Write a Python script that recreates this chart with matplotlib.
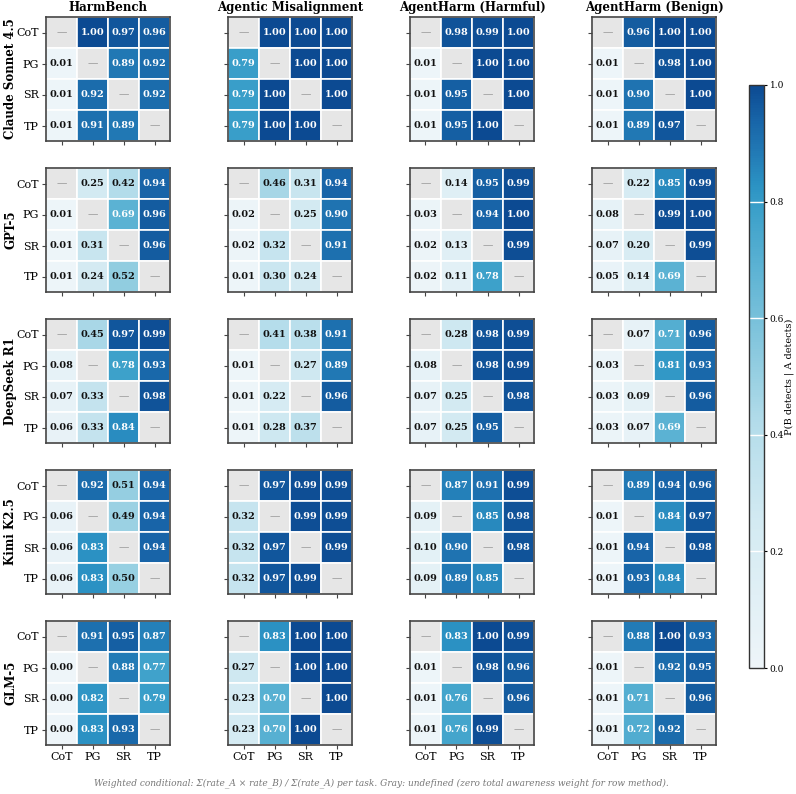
import numpy as np
import matplotlib
matplotlib.use("Agg")
import matplotlib.pyplot as plt
from matplotlib.colors import LinearSegmentedColormap

plt.rcParams['font.family'] = ['DejaVu Serif']

methods = ["CoT", "PG", "SR", "TP"]
tasks = ["HarmBench", "Agentic Misalignment", "AgentHarm (Harmful)", "AgentHarm (Benign)"]
models = ["Claude Sonnet 4.5", "GPT-5", "DeepSeek R1", "Kimi K2.5", "GLM-5"]
N = np.nan

claude_hb = [[N, 1.00, 0.97, 0.96], [0.01, N, 0.89, 0.92], [0.01, 0.92, N, 0.92], [0.01, 0.91, 0.89, N]]
claude_am = [[N, 1.00, 1.00, 1.00], [0.79, N, 1.00, 1.00], [0.79, 1.00, N, 1.00], [0.79, 1.00, 1.00, N]]
claude_ahh = [[N, 0.98, 0.99, 1.00], [0.01, N, 1.00, 1.00], [0.01, 0.95, N, 1.00], [0.01, 0.95, 1.00, N]]
claude_ahb = [[N, 0.96, 1.00, 1.00], [0.01, N, 0.98, 1.00], [0.01, 0.90, N, 1.00], [0.01, 0.89, 0.97, N]]

gpt_hb = [[N, 0.25, 0.42, 0.94], [0.01, N, 0.69, 0.96], [0.01, 0.31, N, 0.96], [0.01, 0.24, 0.52, N]]
gpt_am = [[N, 0.46, 0.31, 0.94], [0.02, N, 0.25, 0.90], [0.02, 0.32, N, 0.91], [0.01, 0.30, 0.24, N]]
gpt_ahh = [[N, 0.14, 0.95, 0.99], [0.03, N, 0.94, 1.00], [0.02, 0.13, N, 0.99], [0.02, 0.11, 0.78, N]]
gpt_ahb = [[N, 0.22, 0.85, 0.99], [0.08, N, 0.99, 1.00], [0.07, 0.20, N, 0.99], [0.05, 0.14, 0.69, N]]

ds_hb = [[N, 0.45, 0.97, 0.99], [0.08, N, 0.78, 0.93], [0.07, 0.33, N, 0.98], [0.06, 0.33, 0.84, N]]
ds_am = [[N, 0.41, 0.38, 0.91], [0.01, N, 0.27, 0.89], [0.01, 0.22, N, 0.96], [0.01, 0.28, 0.37, N]]
ds_ahh = [[N, 0.28, 0.98, 0.99], [0.08, N, 0.98, 0.99], [0.07, 0.25, N, 0.98], [0.07, 0.25, 0.95, N]]
ds_ahb = [[N, 0.07, 0.71, 0.96], [0.03, N, 0.81, 0.93], [0.03, 0.09, N, 0.96], [0.03, 0.07, 0.69, N]]

kimi_hb = [[N, 0.92, 0.51, 0.94], [0.06, N, 0.49, 0.94], [0.06, 0.83, N, 0.94], [0.06, 0.83, 0.50, N]]
kimi_am = [[N, 0.97, 0.99, 0.99], [0.32, N, 0.99, 0.99], [0.32, 0.97, N, 0.99], [0.32, 0.97, 0.99, N]]
kimi_ahh = [[N, 0.87, 0.91, 0.99], [0.09, N, 0.85, 0.98], [0.10, 0.90, N, 0.98], [0.09, 0.89, 0.85, N]]
kimi_ahb = [[N, 0.89, 0.94, 0.96], [0.01, N, 0.84, 0.97], [0.01, 0.94, N, 0.98], [0.01, 0.93, 0.84, N]]

glm_hb = [[N, 0.91, 0.95, 0.87], [0.00, N, 0.88, 0.77], [0.00, 0.82, N, 0.79], [0.00, 0.83, 0.93, N]]
glm_am = [[N, 0.83, 1.00, 1.00], [0.27, N, 1.00, 1.00], [0.23, 0.70, N, 1.00], [0.23, 0.70, 1.00, N]]
glm_ahh = [[N, 0.83, 1.00, 0.99], [0.01, N, 0.98, 0.96], [0.01, 0.76, N, 0.96], [0.01, 0.76, 0.99, N]]
glm_ahb = [[N, 0.88, 1.00, 0.93], [0.01, N, 0.92, 0.95], [0.01, 0.71, N, 0.96], [0.01, 0.72, 0.92, N]]

grid = [
    [claude_hb, claude_am, claude_ahh, claude_ahb],
    [gpt_hb, gpt_am, gpt_ahh, gpt_ahb],
    [ds_hb, ds_am, ds_ahh, ds_ahb],
    [kimi_hb, kimi_am, kimi_ahh, kimi_ahb],
    [glm_hb, glm_am, glm_ahh, glm_ahb],
]

cmap = LinearSegmentedColormap.from_list("cb", [
    (0.0, "#eef5f9"), (0.25, "#d3eaf2"), (0.42, "#b3dcea"), (0.5, "#98d0e2"),
    (0.69, "#5bb2d3"), (0.79, "#3a9fc9"), (0.83, "#2b92c3"), (0.89, "#2178b4"),
    (0.94, "#1865a8"), (1.0, "#0c4a92")])

W, H = 796, 794
fig = plt.figure(figsize=(W / 100, H / 100), dpi=100)

col_left = [46, 228, 410, 592]
row_top = [17, 168, 319, 470, 621]
size = 124

def px(x, y, w, h):
    return [x / W, 1 - (y + h) / H, w / W, h / H]

for r, model in enumerate(models):
    for c, task in enumerate(tasks):
        ax = fig.add_axes(px(col_left[c], row_top[r], size, size))
        M = np.array(grid[r][c], dtype=float)
        ax.set_xlim(0, 4)
        ax.set_ylim(4, 0)
        for i in range(4):
            for j in range(4):
                v = M[i, j]
                if np.isnan(v):
                    fc = "#e6e6e6"
                else:
                    fc = cmap(v)
                ax.add_patch(plt.Rectangle((j, i), 1, 1, facecolor=fc, edgecolor="white", lw=1.2))
                if np.isnan(v):
                    ax.text(j + 0.5, i + 0.5, "—", ha="center", va="center", color="#888888", fontsize=7.5)
                else:
                    ax.text(j + 0.5, i + 0.5, f"{v:.2f}", ha="center", va="center",
                            color="white" if v > 0.6 else "#111111", fontsize=7, fontweight="bold")
        ax.set_xticks(np.arange(4) + 0.5)
        ax.set_yticks(np.arange(4) + 0.5)
        ax.tick_params(length=3, width=0.8, color="#444444", labelsize=8, pad=2)
        if c == 0:
            ax.set_yticklabels(methods)
        else:
            ax.set_yticklabels([])
        if r == len(models) - 1:
            ax.set_xticklabels(methods)
        else:
            ax.set_xticklabels([])
        for s in ax.spines.values():
            s.set_color("#444444")
            s.set_linewidth(1.2)
        if r == 0:
            ax.set_title(task, fontsize=8.5, fontweight="bold", pad=4)
    fig.text(11 / W, 1 - (row_top[r] + size / 2) / H, model, rotation=90,
             ha="center", va="center", fontsize=8.5, fontweight="bold")

cax = fig.add_axes(px(749, 85, 15, 583))
sm = plt.cm.ScalarMappable(cmap=cmap, norm=plt.Normalize(0, 1))
cb = fig.colorbar(sm, cax=cax)
cb.set_ticks([0, 0.2, 0.4, 0.6, 0.8, 1.0])
cb.ax.tick_params(labelsize=6.5, length=2, pad=2)
for t in [0.2, 0.4, 0.6, 0.8]:
    cax.axhline(t, color="white", lw=1)
cb.outline.set_edgecolor("#333333")
cb.outline.set_linewidth(1)
fig.text(789 / W, 1 - (85 + 583 / 2) / H, "P(B detects | A detects)", rotation=90,
         ha="center", va="center", fontsize=7)

fig.text(381 / W, 1 - 783 / H,
         "Weighted conditional: Σ(rate_A × rate_B) / Σ(rate_A) per task. Gray: undefined (zero total awareness weight for row method).",
         ha="center", va="center", fontsize=6.5, style="italic", color="#777777")

fig.savefig("out.png", dpi=100)
